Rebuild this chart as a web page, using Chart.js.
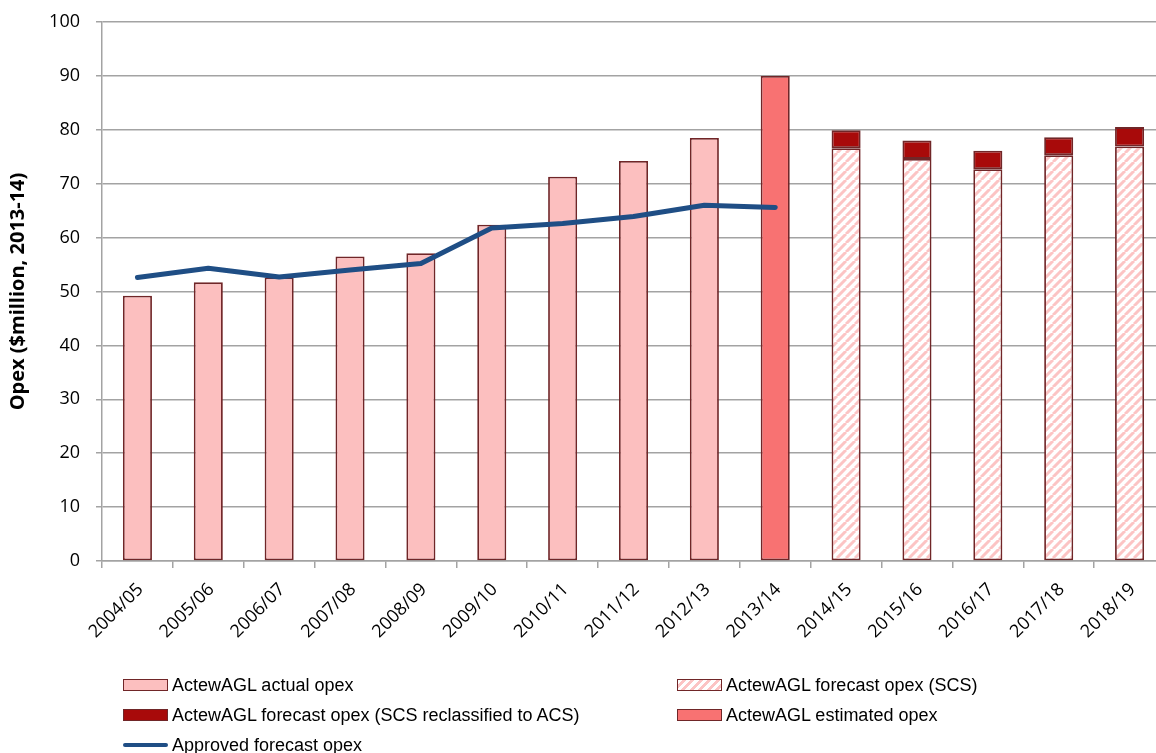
<!DOCTYPE html>
<html>
<head>
<meta charset="utf-8">
<title>ActewAGL opex</title>
<script src="https://cdn.jsdelivr.net/npm/chart.js@4.4.0/dist/chart.umd.min.js"></script>
<style>
  html, body { margin: 0; padding: 0; background: #fff; overflow: hidden; }
  #wrap { position: relative; width: 1165px; height: 753px; }
  canvas { display: block; }
  #legend {
    position: absolute; left: 0; top: 0;
    font-family: "Liberation Sans", sans-serif;
    font-size: 18px; color: #000;
  }
  .item { position: absolute; display: flex; align-items: center; white-space: nowrap; height: 24px; }
  .swatch { width: 45px; height: 12px; box-sizing: border-box; margin-right: 4px; }
  .swatch.line { height: 4px; border-radius: 2px; }
</style>
</head>
<body>
<div id="wrap">
  <canvas id="opexChart" width="1165" height="753"></canvas>
  <div id="legend"></div>
</div>
<script>
// Financial years on the category axis
const years = [
  "2004/05", "2005/06", "2006/07", "2007/08", "2008/09", "2009/10", "2010/11",
  "2011/12", "2012/13", "2013/14", "2014/15", "2015/16", "2016/17", "2017/18", "2018/19"
];

// Opex, $million 2013-14
const actualOpex = [49.2, 51.7, 52.6, 56.5, 57.1, 62.4, 71.3, 74.2, 78.5, null, null, null, null, null, null];
const estimatedOpex = [null, null, null, null, null, null, null, null, null, 90.0, null, null, null, null, null];
const forecastScs = [null, null, null, null, null, null, null, null, null, null, 76.6, 74.6, 72.7, 75.3, 76.9];
const forecastReclassified = [null, null, null, null, null, null, null, null, null, null, 3.3, 3.4, 3.4, 3.3, 3.6];
const approvedOpex = [52.6, 54.3, 52.7, 54.0, 55.2, 61.8, 62.6, 63.9, 66.0, 65.6, null, null, null, null, null];

const yMin = 0;
const yMax = 100;
const yStep = 10;

const BORDER = "#702628";
const GRID = "#a3a3a3";

// white fill with light pink diagonal stripes for the forecast bars
function makeHatch() {
  const size = 9;
  const c = document.createElement("canvas");
  c.width = size;
  c.height = size;
  const g = c.getContext("2d");
  g.fillStyle = "#ffffff";
  g.fillRect(0, 0, size, size);
  g.strokeStyle = "#fcc4c4";
  g.lineWidth = 3;
  g.beginPath();
  for (let k = -1; k <= 1; k++) {
    g.moveTo(k * size, size);
    g.lineTo(k * size + size, 0);
  }
  g.stroke();
  return g.createPattern(c, "repeat");
}

const ctx = document.getElementById("opexChart").getContext("2d");
const hatch = makeHatch();

const barCommon = {
  type: "bar",
  stack: "opex",
  borderColor: BORDER,
  borderWidth: 1.8,
  borderSkipped: false,
  barPercentage: 0.41,
  categoryPercentage: 1.0,
  order: 1,
};

const datasets = [
  { ...barCommon, label: "ActewAGL actual opex", data: actualOpex, backgroundColor: "#fcbfbf" },
  { ...barCommon, label: "ActewAGL forecast opex (SCS)", data: forecastScs, backgroundColor: hatch },
  { ...barCommon, label: "ActewAGL forecast opex (SCS reclassified to ACS)", data: forecastReclassified, backgroundColor: "#a80a0a" },
  { ...barCommon, label: "ActewAGL estimated opex", data: estimatedOpex, backgroundColor: "#f87272" },
  {
    type: "line",
    stack: "approved",
    label: "Approved forecast opex",
    data: approvedOpex,
    borderColor: "#1f4e85",
    backgroundColor: "#1f4e85",
    borderWidth: 5,
    borderCapStyle: "round",
    borderJoinStyle: "round",
    pointRadius: 0,
    tension: 0,
    spanGaps: false,
    order: 0,
  },
];

const chart = new Chart(ctx, {
  data: { labels: years, datasets },
  options: {
    responsive: false,
    animation: false,
    events: [],
    layout: { padding: { top: 22, right: 0, bottom: 0, left: 0 } },
    plugins: {
      legend: { display: false },
      tooltip: { enabled: false },
    },
    scales: {
      x: {
        stacked: true,
        offset: true,
        grid: {
          offset: true,
          drawOnChartArea: false,
          color: GRID,
          lineWidth: 1.5,
          tickLength: 7,
        },
        border: { color: GRID, width: 1.5 },
        ticks: {
          color: "#000",
          font: { family: "'Open Sans', sans-serif", size: 18 },
          maxRotation: 45,
          minRotation: 45,
          autoSkip: false,
          padding: 11,
          labelOffset: 3,
        },
        afterFit(scale) {
          scale.height = 753 - 561;
        },
      },
      y: {
        stacked: true,
        min: yMin,
        max: yMax,
        grid: { color: GRID, lineWidth: 1.5, tickLength: 6 },
        border: { color: GRID, width: 1.5 },
        ticks: {
          stepSize: yStep,
          color: "#000",
          font: { family: "'Open Sans', sans-serif", size: 18, lineHeight: 1 },
          padding: 16,
        },
        title: {
          display: true,
          text: "Opex ($million, 2013-14)",
          color: "#000",
          font: { family: "'Open Sans', sans-serif", size: 20, weight: "bold" },
          padding: { top: 6, bottom: 0 },
        },
        afterFit(scale) {
          // fixed axis width; the top margin comes from layout padding only
          scale.width = 102;
          scale.paddingTop = 0;
          scale.paddingBottom = 0;
        },
      },
    },
  },
});

// legend laid out in two columns under the plot
const legendSlots = [
  { idx: 0, x: 123, y: 673 },
  { idx: 1, x: 677, y: 673 },
  { idx: 2, x: 123, y: 703 },
  { idx: 3, x: 677, y: 703 },
  { idx: 4, x: 123, y: 733 },
];

const legendEl = document.getElementById("legend");
legendSlots.forEach(({ idx, x, y }) => {
  const ds = chart.data.datasets[idx];
  const item = document.createElement("div");
  item.className = "item";
  item.style.left = x + "px";
  item.style.top = y + "px";
  const sw = document.createElement("span");
  sw.className = "swatch";
  if (ds.type === "line") {
    sw.classList.add("line");
    sw.style.background = ds.borderColor;
  } else if (ds.backgroundColor === hatch) {
    sw.style.border = "1.5px solid " + BORDER;
    sw.style.background =
      "repeating-linear-gradient(135deg, #fff 0 3px, #fcc4c4 3px 6px)";
  } else {
    sw.style.border = "1.5px solid " + BORDER;
    sw.style.background = ds.backgroundColor;
  }
  const txt = document.createElement("span");
  txt.textContent = ds.label;
  item.appendChild(sw);
  item.appendChild(txt);
  legendEl.appendChild(item);
});
</script>
</body>
</html>
